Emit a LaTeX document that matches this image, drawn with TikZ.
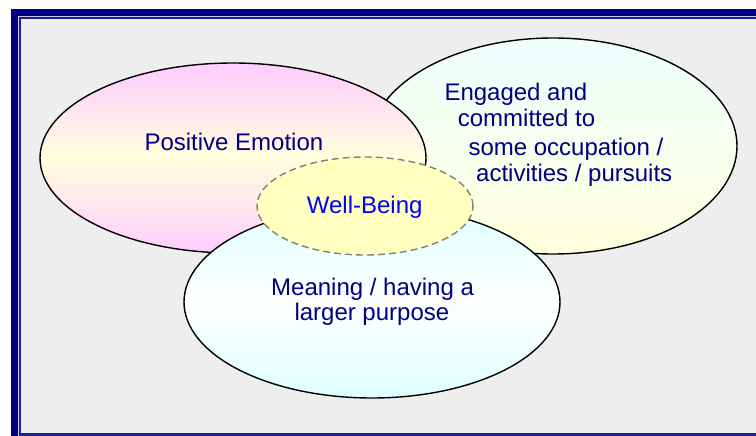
\documentclass[tikz,border=0pt]{standalone}
\usepackage{fontspec}
\setmainfont{Liberation Sans}
\definecolor{navyband}{HTML}{000080}
\definecolor{frameline}{HTML}{1E1E9A}
\definecolor{framegap}{HTML}{C8C8E4}
\definecolor{panelbg}{HTML}{EEEEEE}
\definecolor{pinkish}{HTML}{FFCCFF}
\definecolor{creamy}{HTML}{FFFFDD}
\definecolor{icecyan}{HTML}{EEFFFF}
\definecolor{palecyan}{HTML}{DDFFFF}
\definecolor{wbfill}{HTML}{FFFFC0}
\definecolor{textnavy}{HTML}{000080}
\definecolor{textblue}{HTML}{0000FF}
\begin{document}
\begin{tikzpicture}[x=1pt,y=-1pt,
  circle edge/.style={draw=black,line width=1.4pt},
  label text/.style={inner sep=0pt,anchor=base west,text=textnavy,
    font=\fontsize{24}{27}\selectfont},
  core text/.style={label text,text=textblue}]
\useasboundingbox (0,0) rectangle (756,436);
\begin{scope}
\clip (0,0) rectangle (756,436);
% framed panel
\fill[navyband]  (11,9)     rectangle (800,480);
\fill[framegap]  (18,16)    rectangle (790,470);
\fill[frameline] (19.3,17.3) rectangle (780,436);
\fill[panelbg]   (21.3,19.3) rectangle (770,433);
% the four regions
\path[circle edge,top color=icecyan,bottom color=creamy]
  (553,146) ellipse [x radius=184pt,y radius=108pt];
\path[circle edge,top color=pinkish,bottom color=pinkish,middle color=creamy]
  (233,158) ellipse [x radius=193pt,y radius=95pt];
\path[circle edge,top color=palecyan,bottom color=palecyan,middle color=white]
  (372,302) ellipse [x radius=188pt,y radius=96pt];
\path[draw=gray,line width=1.4pt,dash pattern=on 7pt off 4pt,fill=wbfill]
  (365,206) ellipse [x radius=108pt,y radius=49pt];
\end{scope}
% labels
\node[label text] (pe) at (144.3,150.7) {Positive Emotion};
\node[label text] (en1) at (444.3,100) {Engaged and};
\node[label text] (en2) at (457.7,126.7) {committed to};
\node[label text] (en3) at (468.3,155) {some occupation /};
\node[label text] (en4) at (476,181.7) {activities / pursuits};
\node[label text] (mn1) at (271,295) {Meaning / having a};
\node[label text] (mn2) at (294.3,320.7) {larger purpose};
\node[core text] (wb) at (306.7,213.3) {Well-Being};
\end{tikzpicture}
\end{document}
